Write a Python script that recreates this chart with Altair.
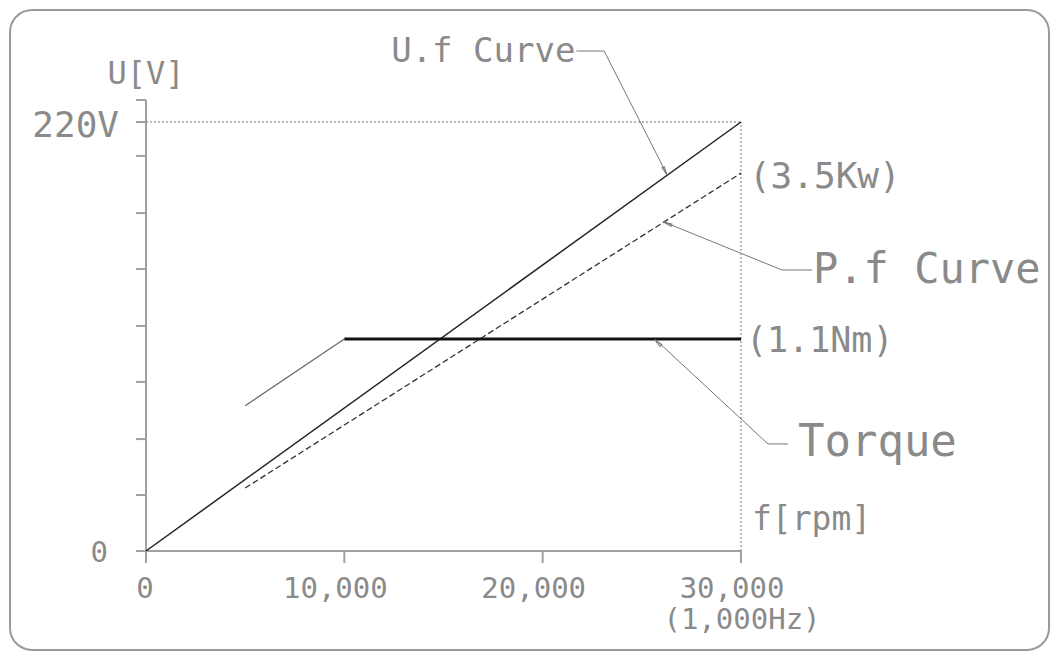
import altair as alt
import pandas as pd

# ---------------- data ----------------
x_ticks = [0, 10000, 20000, 30000]
x_tick_labels = ["0", "10,000", "20,000", "30,000"]
y_ticks = [0, 28.7, 57.4, 86.7, 115.4, 144.6, 173.3, 202.6, 220, 231.3]
y_label_values = [0, 220]
y_label_texts = ["0", "220V"]

uf_rpm = [0, 30000]
uf_volt = [0, 220]
pf_rpm = [5000, 30000]
pf_volt = [32.3, 193.8]
torque_ramp_rpm = [5000, 10000]
torque_ramp_val = [74.5, 108.7]
torque_flat_rpm = [10000, 30000]
torque_flat_val = [108.7, 108.7]

rpm_max = 30000
volt_max = 220

# annotation texts and anchor positions (data units)
left_texts = ["P.f Curve", "Torque", "(3.5Kw)", "(1.1Nm)", "f[rpm]"]
left_x = [33630, 32870, 30400, 30250, 30550]
left_y = [144.1, 55.4, 191.8, 107.7, 15.9]
left_size = [42, 44, 36, 35, 33]

center_texts = ["(1,000Hz)", "U[V]"]
center_x = [30050, 0]
center_y = [-35.4, 244.6]
center_size = [29, 32]

right_texts = ["U.f Curve"]
right_x = [21650]
right_y = [256]
right_size = [34]

# leader lines (data units)
lead_x1 = [21700, 23100, 33580, 32070, 32370, 31360]
lead_y1 = [256.4, 256.4, 144.1, 144.1, 54.9, 54.9]
lead_x2 = [23100, 26280, 32070, 26120, 31360, 25660]
lead_y2 = [256.4, 192.8, 144.1, 168.7, 54.9, 108.7]

# little arrow heads at leader tips
arrow_x = [26170, 26300, 25810]
arrow_y = [194.9, 167.9, 106.8]
arrow_angle = [153, 292, 313]

# ---------------- layout ----------------
W, H, PAD = 1039, 640, 2
X0_PX, XMAX_PX = 136, 731
Y0_PX, YMAX_PX = 541, 112
rpm_per_px = rpm_max / (XMAX_PX - X0_PX)
volt_per_px = volt_max / (Y0_PX - YMAX_PX)
x_dom = [-X0_PX * rpm_per_px, (W - X0_PX) * rpm_per_px]
y_dom = [-(H - Y0_PX) * volt_per_px, volt_max + YMAX_PX * volt_per_px]

xs = alt.Scale(domain=x_dom, nice=False, zero=False)
ys = alt.Scale(domain=y_dom, nice=False, zero=False)

FONT = "DejaVu Sans Mono"
TXT = "#8a8a8a"
AX = "#a0a0a0"

ytick_len = 10 * rpm_per_px
xtick_len = 12 * volt_per_px


def X(f="x"):
    return alt.X(f"{f}:Q", scale=xs, axis=None)


def Y(f="y"):
    return alt.Y(f"{f}:Q", scale=ys, axis=None)


def rules(df, **mk):
    return alt.Chart(df).mark_rule(**mk).encode(
        x=X("x"), y=Y("y"), x2="x2:Q", y2="y2:Q"
    )


def line(xv, yv, **mk):
    df = pd.DataFrame({"x": xv, "y": yv})
    return alt.Chart(df).mark_line(**mk).encode(x=X("x"), y=Y("y"))


# axes
axis_df = pd.DataFrame({
    "x": [0, 0], "y": [0, 0],
    "x2": [rpm_max, 0], "y2": [0, y_ticks[-1]],
})
ytick_df = pd.DataFrame({
    "x": [-ytick_len] * len(y_ticks), "x2": [0] * len(y_ticks),
    "y": y_ticks, "y2": y_ticks,
})
xtick_df = pd.DataFrame({
    "x": x_ticks, "x2": x_ticks,
    "y": [0] * len(x_ticks), "y2": [-xtick_len] * len(x_ticks),
})
ref_df = pd.DataFrame({
    "x": [0, rpm_max], "y": [volt_max, 0],
    "x2": [rpm_max, rpm_max], "y2": [volt_max, volt_max],
})
lead_df = pd.DataFrame({"x": lead_x1, "y": lead_y1, "x2": lead_x2, "y2": lead_y2})

xlab_df = pd.DataFrame({"x": x_ticks, "t": x_tick_labels, "y": [-19.5] * len(x_ticks)})
ylab_df = pd.DataFrame({"y": y_label_values, "t": y_label_texts, "x": [0, 0]})

layers = [
    rules(axis_df, color=AX, strokeWidth=2),
    rules(ytick_df, color=AX, strokeWidth=2),
    rules(xtick_df, color=AX, strokeWidth=2),
    rules(ref_df, color="#777777", strokeWidth=1, strokeDash=[2, 2]),
    line(uf_rpm, uf_volt, color="#222222", strokeWidth=1.5),
    line(pf_rpm, pf_volt, color="#333333", strokeWidth=1.3, strokeDash=[6, 3]),
    line(torque_ramp_rpm, torque_ramp_val, color="#666666", strokeWidth=1.2),
    line(torque_flat_rpm, torque_flat_val, color="#111111", strokeWidth=3),
    rules(lead_df, color="#777777", strokeWidth=1),
    alt.Chart(pd.DataFrame({"x": arrow_x, "y": arrow_y, "a": arrow_angle}))
    .mark_point(shape="M0,-1L0.3,1L-0.3,1Z", filled=False, size=70,
                color="#777777", strokeWidth=1, opacity=1)
    .encode(x=X(), y=Y(), angle=alt.Angle("a:Q", scale=None)),
]

# tick labels
layers.append(
    alt.Chart(xlab_df).transform_filter("datum.x > 0")
    .mark_text(font=FONT, fontSize=29, color=TXT, align="center", baseline="middle", dx=-9)
    .encode(x=X(), y=Y(), text="t:N")
)
layers.append(
    alt.Chart(xlab_df).transform_filter("datum.x == 0")
    .mark_text(font=FONT, fontSize=29, color=TXT, align="center", baseline="middle", dx=-1)
    .encode(x=X(), y=Y(), text="t:N")
)
layers.append(
    alt.Chart(ylab_df).transform_filter("datum.y == 0")
    .mark_text(font=FONT, fontSize=29, color=TXT, align="right", baseline="middle", dx=-38, dy=2)
    .encode(x=X(), y=Y(), text="t:N")
)
layers.append(
    alt.Chart(ylab_df).transform_filter("datum.y > 0")
    .mark_text(font=FONT, fontSize=36, color=TXT, align="right", baseline="middle", dx=-27, dy=4)
    .encode(x=X(), y=Y(), text="t:N")
)


def texts(tx, xv, yv, sz, align):
    df = pd.DataFrame({"t": tx, "x": xv, "y": yv, "s": sz})
    return alt.Chart(df).mark_text(font=FONT, color=TXT, align=align, baseline="middle").encode(
        x=X(), y=Y(), text="t:N", size=alt.Size("s:Q", scale=None, legend=None)
    )


layers.append(texts(left_texts, left_x, left_y, left_size, "left"))
layers.append(texts(center_texts, center_x, center_y, center_size, "center"))
layers.append(texts(right_texts, right_x, right_y, right_size, "right"))

chart = (
    alt.layer(*layers)
    .properties(width=W, height=H, padding=PAD, autosize="none", background="white")
    .configure_view(stroke="#9a9a9a", strokeWidth=2, cornerRadius=22)
)

chart.save("out.html", embed_options={"renderer": "svg", "actions": False})
